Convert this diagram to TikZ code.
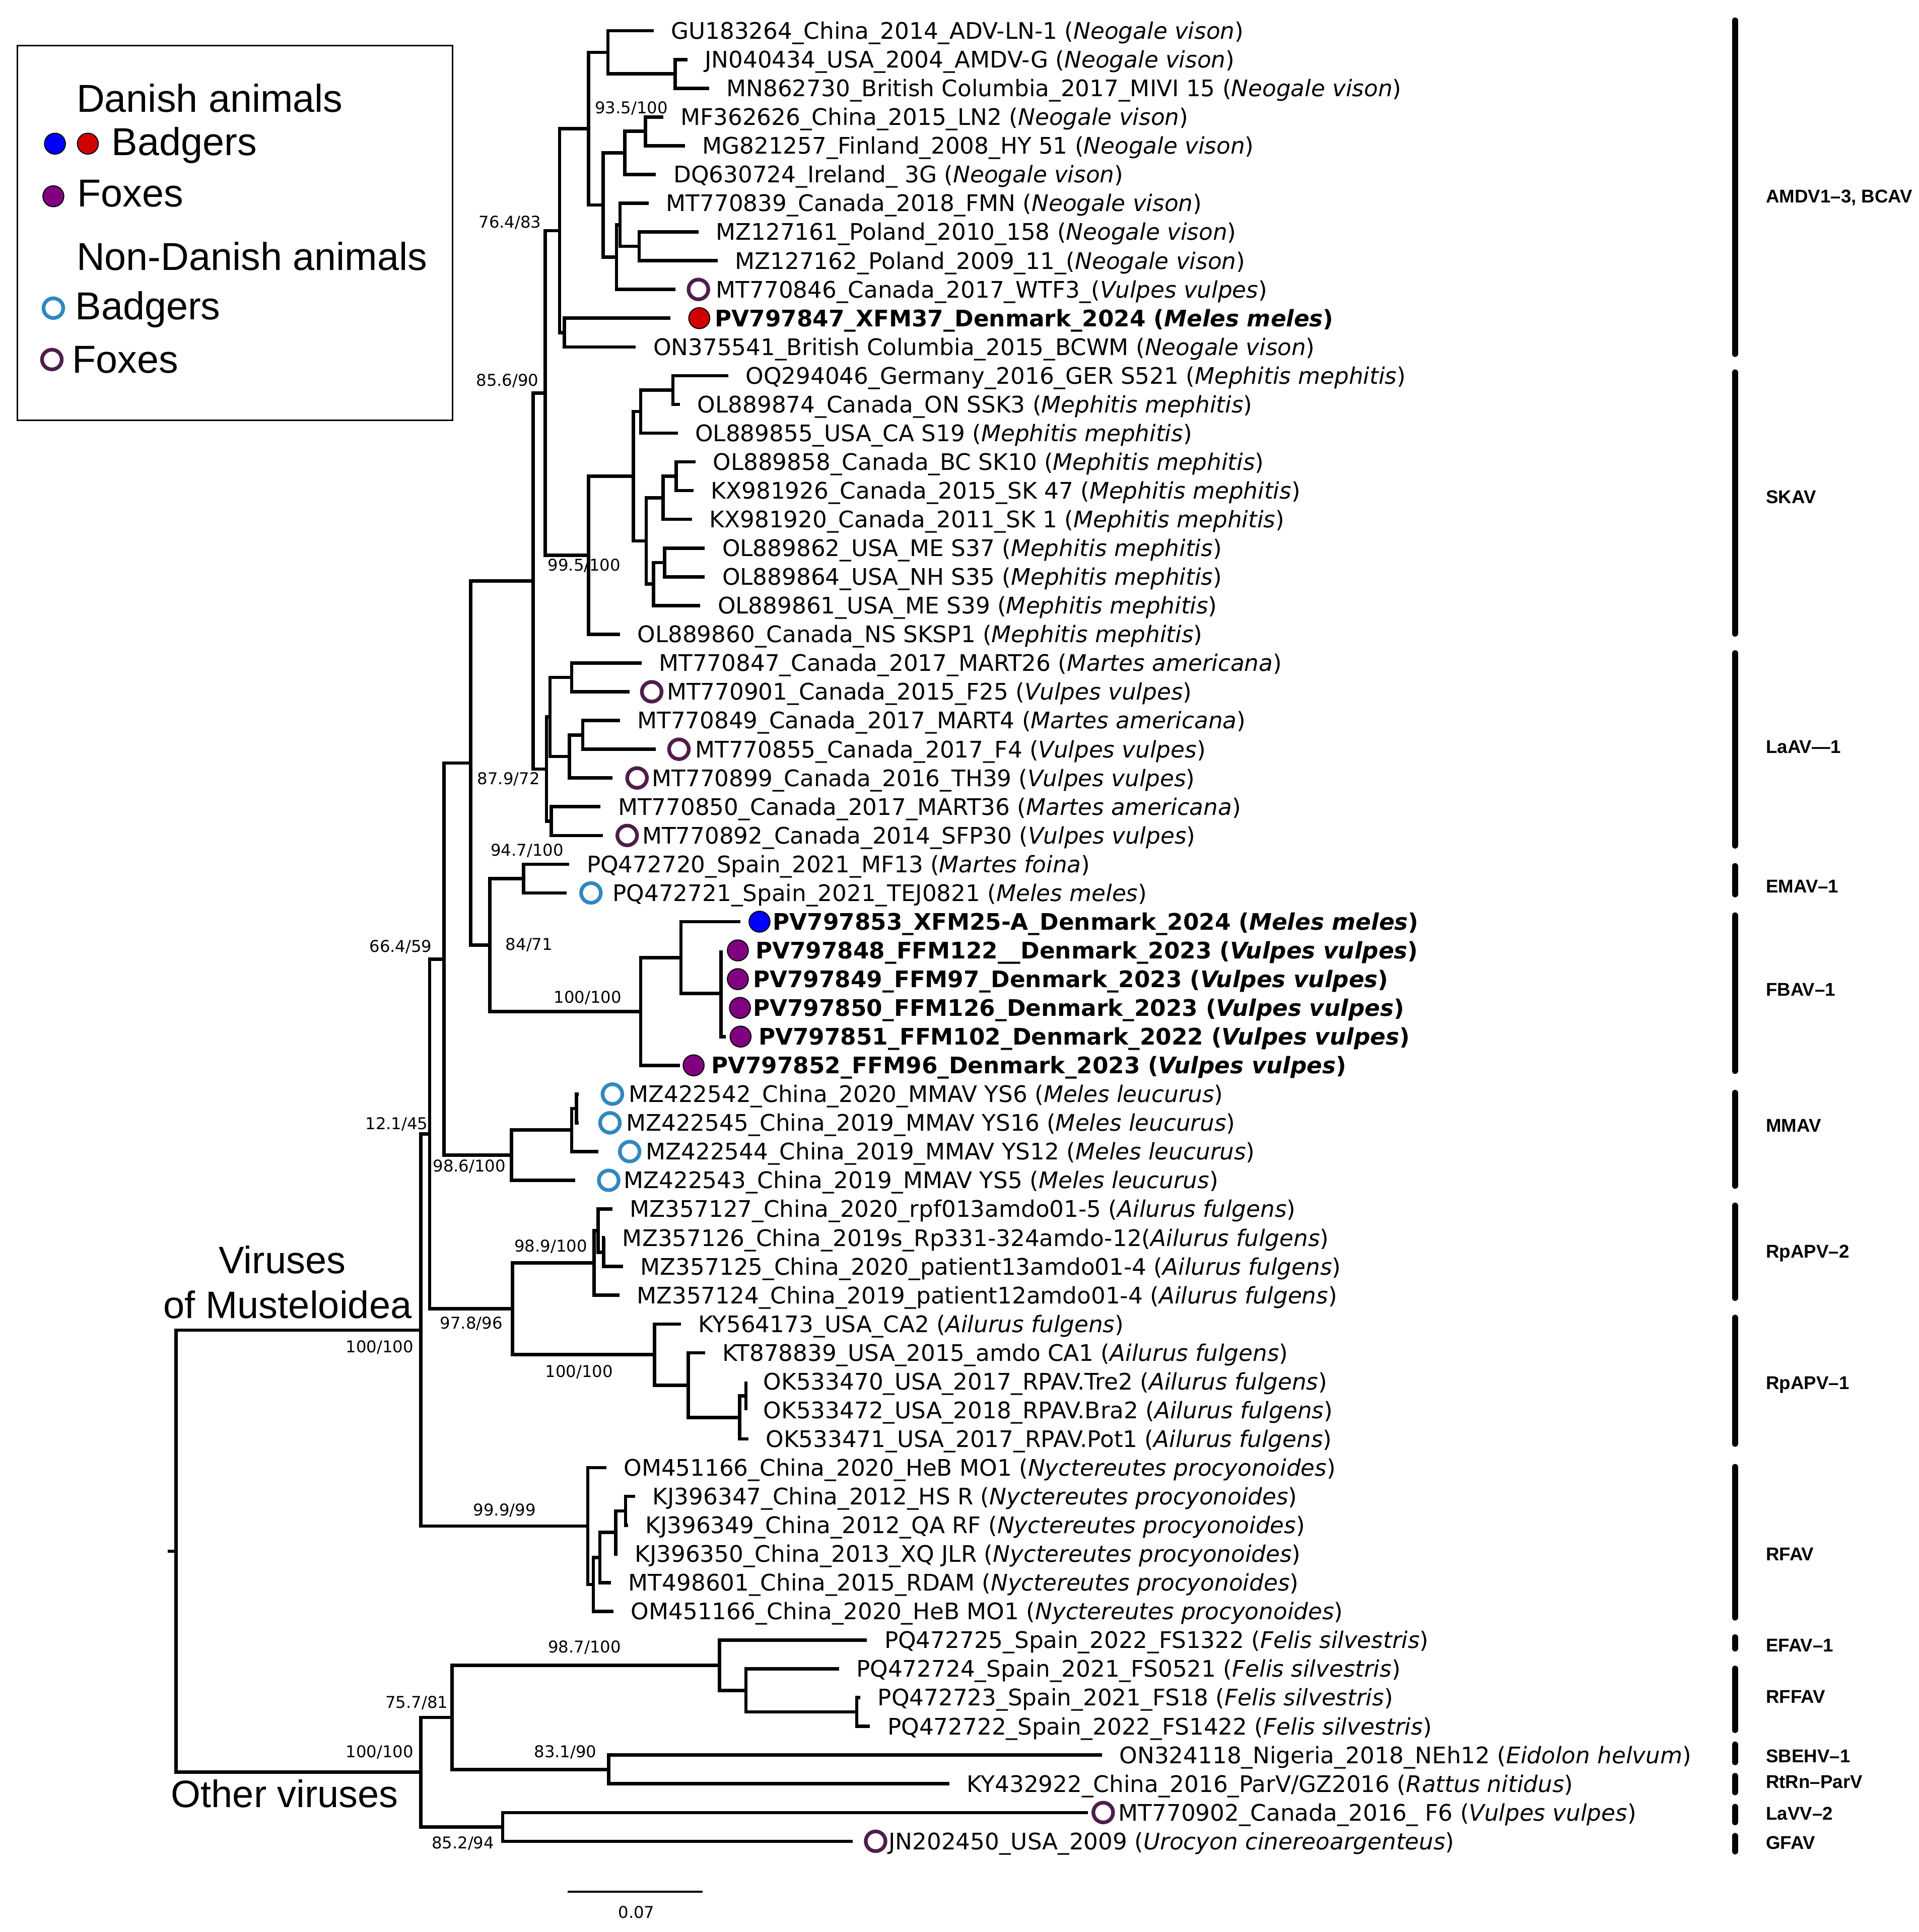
\documentclass[tikz,border=0pt]{standalone}
\usepackage{fontspec}
\setmainfont{DejaVu Sans}
\newfontfamily\arialf{Liberation Sans}
\definecolor{dkblue}{RGB}{0,0,255}
\definecolor{dkred}{RGB}{208,0,0}
\definecolor{dkpurple}{RGB}{128,0,128}
\definecolor{ndbadger}{RGB}{50,135,190}
\definecolor{ndfox}{RGB}{78,30,74}
\newcommand\Y[1]{1.677+#1*23.323}
\tikzset{
  br/.style={line width=2.7pt, line join=miter},
  leaf/.style={anchor=base west, inner sep=0pt, font=\fontsize{18.5}{22}\selectfont},
  boot/.style={inner sep=0pt, font=\fontsize{13.2}{15}\selectfont},
  dkdot/.style={circle, draw=black, line width=0.8pt, minimum size=17pt, inner sep=0pt},
  dkbluedot/.style={dkdot, fill=dkblue},
  dkreddot/.style={dkdot, fill=dkred},
  dkpurpledot/.style={dkdot, fill=dkpurple},
  ndring/.style={circle, line width=3pt, minimum size=16pt, inner sep=0pt},
  ndbadgerring/.style={ndring, draw=ndbadger},
  ndfoxring/.style={ndring, draw=ndfox},
  cbar/.style={line width=5pt, line cap=round},
  clab/.style={anchor=base west, inner sep=0pt, font=\arialf\bfseries\fontsize{15}{18}\selectfont},
  legtext/.style={anchor=base west, inner sep=0pt, font=\arialf\fontsize{31.6}{36}\selectfont},
  bigtext/.style={anchor=base, inner sep=0pt, font=\arialf\fontsize{31}{36}\selectfont},
}
\newcommand\tipleaf[4]{\coordinate (#1) at (#2,\Y{#3}); \node[leaf] (#1t) at ({#2+14},{\Y{#3}+6.7}) {#4};}
\newcommand\circleaf[7]{\coordinate (#1) at (#2,\Y{#3}); \node[#5] (#1c) at (#4,\Y{#3}) {}; \node[leaf] (#1t) at (#6,{\Y{#3}+6.7}) {#7};}
\newcommand\kids[2]{\foreach \kid in {#2}{\draw[br] (#1) |- (\kid);}}
\newcommand\clade[5]{\coordinate (#1a) at (1408,{#2+2.5}); \coordinate (#1b) at (1408,{#3-2.5}); \draw[cbar] (#1a) -- (#1b); \node[clab] (#1l) at (1433,{#4+5.4}) {#5};}
\begin{document}
\begin{tikzpicture}[x=1pt,y=-1pt]
\fill[white] (0,0) rectangle (1557,1568);
\useasboundingbox (0,0) rectangle (1557,1568);

% ---------------- leaves ----------------
\tipleaf{L1}{530.4}{1}{GU183264\_China\_2014\_ADV-LN-1 (\textit{Neogale vison})}
\tipleaf{L2}{557.8}{2}{JN040434\_USA\_2004\_AMDV-G (\textit{Neogale vison})}
\tipleaf{L3}{575.4}{3}{MN862730\_British Columbia\_2017\_MIVI 15 (\textit{Neogale vison})}
\tipleaf{L4}{538.2}{4}{MF362626\_China\_2015\_LN2 (\textit{Neogale vison})}
\tipleaf{L5}{555.8}{5}{MG821257\_Finland\_2008\_HY 51 (\textit{Neogale vison})}
\tipleaf{L6}{532.4}{6}{DQ630724\_Ireland\_ 3G (\textit{Neogale vison})}
\tipleaf{L7}{526.5}{7}{MT770839\_Canada\_2018\_FMN (\textit{Neogale vison})}
\tipleaf{L8}{566.8}{8}{MZ127161\_Poland\_2010\_158 (\textit{Neogale vison})}
\tipleaf{L9}{582.4}{9}{MZ127162\_Poland\_2009\_11\_(\textit{Neogale vison})}
\circleaf{L10}{548}{10}{566.8}{ndfoxring}{581}{MT770846\_Canada\_2017\_WTF3\_(\textit{Vulpes vulpes})}
\circleaf{L11}{544.1}{11}{567.5}{dkreddot}{580}{\textbf{PV797847\_XFM37\_Denmark\_2024 (\textit{Meles meles})}}
\tipleaf{L12}{516}{12}{ON375541\_British Columbia\_2015\_BCWM (\textit{Neogale vison})}
\tipleaf{L13}{591}{13}{OQ294046\_Germany\_2016\_GER S521 (\textit{Mephitis mephitis})}
\tipleaf{L14}{551.9}{14}{OL889874\_Canada\_ON SSK3 (\textit{Mephitis mephitis})}
\tipleaf{L15}{550}{15}{OL889855\_USA\_CA S19 (\textit{Mephitis mephitis})}
\tipleaf{L16}{564.4}{16}{OL889858\_Canada\_BC SK10 (\textit{Mephitis mephitis})}
\tipleaf{L17}{562.9}{17}{KX981926\_Canada\_2015\_SK 47 (\textit{Mephitis mephitis})}
\tipleaf{L18}{561.7}{18}{KX981920\_Canada\_2011\_SK 1 (\textit{Mephitis mephitis})}
\tipleaf{L19}{572}{19}{OL889862\_USA\_ME S37 (\textit{Mephitis mephitis})}
\tipleaf{L20}{572}{20}{OL889864\_USA\_NH S35 (\textit{Mephitis mephitis})}
\tipleaf{L21}{568.3}{21}{OL889861\_USA\_ME S39 (\textit{Mephitis mephitis})}
\tipleaf{L22}{503.1}{22}{OL889860\_Canada\_NS SKSP1 (\textit{Mephitis mephitis})}
\tipleaf{L23}{520.6}{23}{MT770847\_Canada\_2017\_MART26 (\textit{Martes americana})}
\circleaf{L24}{510.9}{24}{528.9}{ndfoxring}{541}{MT770901\_Canada\_2015\_F25 (\textit{Vulpes vulpes})}
\tipleaf{L25}{503}{25}{MT770849\_Canada\_2017\_MART4 (\textit{Martes americana})}
\circleaf{L26}{532.4}{26}{551}{ndfoxring}{564}{MT770855\_Canada\_2017\_F4 (\textit{Vulpes vulpes})}
\circleaf{L27}{497.2}{27}{517}{ndfoxring}{529}{MT770899\_Canada\_2016\_TH39 (\textit{Vulpes vulpes})}
\tipleaf{L28}{487.4}{28}{MT770850\_Canada\_2017\_MART36 (\textit{Martes americana})}
\circleaf{L29}{489.4}{29}{509}{ndfoxring}{521}{MT770892\_Canada\_2014\_SFP30 (\textit{Vulpes vulpes})}
\tipleaf{L30}{462}{30}{PQ472720\_Spain\_2021\_MF13 (\textit{Martes foina})}
\circleaf{L31}{460}{31}{479.6}{ndbadgerring}{497}{PQ472721\_Spain\_2021\_TEJ0821 (\textit{Meles meles})}
\circleaf{L32}{600.8}{32}{616.4}{dkbluedot}{627}{\textbf{PV797853\_XFM25-A\_Denmark\_2024 (\textit{Meles meles})}}
\circleaf{L33}{585.1}{33}{598.8}{dkpurpledot}{613}{\textbf{PV797848\_FFM122\_\_Denmark\_2023 (\textit{Vulpes vulpes})}}
\circleaf{L34}{585.1}{34}{598.8}{dkpurpledot}{611}{\textbf{PV797849\_FFM97\_Denmark\_2023 (\textit{Vulpes vulpes})}}
\circleaf{L35}{585.1}{35}{600.5}{dkpurpledot}{611}{\textbf{PV797850\_FFM126\_Denmark\_2023 (\textit{Vulpes vulpes})}}
\circleaf{L36}{589}{36}{601}{dkpurpledot}{615.5}{\textbf{PV797851\_FFM102\_Denmark\_2022 (\textit{Vulpes vulpes})}}
\circleaf{L37}{551.9}{37}{562.9}{dkpurpledot}{577}{\textbf{PV797852\_FFM96\_Denmark\_2023 (\textit{Vulpes vulpes})}}
\circleaf{L38}{469.8}{38}{497}{ndbadgerring}{510}{MZ422542\_China\_2020\_MMAV YS6 (\textit{Meles leucurus})}
\circleaf{L39}{469.8}{39}{495}{ndbadgerring}{508}{MZ422545\_China\_2019\_MMAV YS16 (\textit{Meles leucurus})}
\circleaf{L40}{485.5}{40}{511}{ndbadgerring}{524}{MZ422544\_China\_2019\_MMAV YS12 (\textit{Meles leucurus})}
\circleaf{L41}{466.7}{41}{494}{ndbadgerring}{506}{MZ422543\_China\_2019\_MMAV YS5 (\textit{Meles leucurus})}
\tipleaf{L42}{497.1}{42}{MZ357127\_China\_2020\_rpf013amdo01-5 (\textit{Ailurus fulgens})}
\tipleaf{L43}{491}{43}{MZ357126\_China\_2019s\_Rp331-324amdo-12(\textit{Ailurus fulgens})}
\tipleaf{L44}{505.7}{44}{MZ357125\_China\_2020\_patient13amdo01-4 (\textit{Ailurus fulgens})}
\tipleaf{L45}{502.6}{45}{MZ357124\_China\_2019\_patient12amdo01-4 (\textit{Ailurus fulgens})}
\tipleaf{L46}{552.6}{46}{KY564173\_USA\_CA2 (\textit{Ailurus fulgens})}
\tipleaf{L47}{572.1}{47}{KT878839\_USA\_2015\_amdo CA1 (\textit{Ailurus fulgens})}
\tipleaf{L48}{605.4}{48}{OK533470\_USA\_2017\_RPAV.Tre2 (\textit{Ailurus fulgens})}
\tipleaf{L49}{605.4}{49}{OK533472\_USA\_2018\_RPAV.Bra2 (\textit{Ailurus fulgens})}
\tipleaf{L50}{607.3}{50}{OK533471\_USA\_2017\_RPAV.Pot1 (\textit{Ailurus fulgens})}
\tipleaf{L51}{492}{51}{OM451166\_China\_2020\_HeB MO1 (\textit{Nyctereutes procyonoides})}
\tipleaf{L52}{515.5}{52}{KJ396347\_China\_2012\_HS R (\textit{Nyctereutes procyonoides})}
\tipleaf{L53}{509.6}{53}{KJ396349\_China\_2012\_QA RF (\textit{Nyctereutes procyonoides})}
\tipleaf{L54}{501}{54}{KJ396350\_China\_2013\_XQ JLR (\textit{Nyctereutes procyonoides})}
\tipleaf{L55}{495.9}{55}{MT498601\_China\_2015\_RDAM (\textit{Nyctereutes procyonoides})}
\tipleaf{L56}{497.9}{56}{OM451166\_China\_2020\_HeB MO1 (\textit{Nyctereutes procyonoides})}
\tipleaf{L57}{703.6}{57}{PQ472725\_Spain\_2022\_FS1322 (\textit{Felis silvestris})}
\tipleaf{L58}{680.8}{58}{PQ472724\_Spain\_2021\_FS0521 (\textit{Felis silvestris})}
\tipleaf{L59}{698.2}{59}{PQ472723\_Spain\_2021\_FS18 (\textit{Felis silvestris})}
\tipleaf{L60}{706.1}{60}{PQ472722\_Spain\_2022\_FS1422 (\textit{Felis silvestris})}
\tipleaf{L61}{894.3}{61}{ON324118\_Nigeria\_2018\_NEh12 (\textit{Eidolon helvum})}
\tipleaf{L62}{770.5}{62}{KY432922\_China\_2016\_ParV/GZ2016 (\textit{Rattus nitidus})}
\circleaf{L63}{882.9}{63}{895.3}{ndfoxring}{907.6}{MT770902\_Canada\_2016\_ F6 (\textit{Vulpes vulpes})}
\circleaf{L64}{692.2}{64}{710.6}{ndfoxring}{721}{JN202450\_USA\_2009 (\textit{Urocyon cinereoargenteus})}

% ---------------- internal nodes ----------------
\coordinate (A4) at (548,60.0);
\coordinate (A3) at (493.3,42.5);
\coordinate (A7) at (523.8,106.6);
\coordinate (A6) at (507,124.1);
\coordinate (A10) at (518.7,199.9);
\coordinate (A9) at (503.1,182.4);
\coordinate (A8) at (500.3,208.7);
\coordinate (A5) at (489.4,166.4);
\coordinate (A2) at (477.6,104.5);
\coordinate (A11) at (458.1,269.9);
\coordinate (A1) at (454.2,187.2);
\coordinate (S4) at (546.1,316.6);
\coordinate (S3) at (519.9,334.0);
\coordinate (S7) at (548.8,386.5);
\coordinate (S6) at (538.2,404.0);
\coordinate (S9) at (539.4,456.5);
\coordinate (S8) at (530.4,474.0);
\coordinate (S5) at (524.5,439.0);
\coordinate (S2) at (514,386.5);
\coordinate (S1) at (477.6,450.7);
\coordinate (N85) at (442.5,319.0);
\coordinate (La1a) at (464,549.8);
\coordinate (La1c) at (473,596.5);
\coordinate (La1b) at (462,614.0);
\coordinate (La1) at (446.4,581.9);
\coordinate (La2) at (447.5,666.4);
\coordinate (La) at (443.5,624.2);
\coordinate (Yn) at (432.7,471.6);
\coordinate (E) at (424.9,713.0);
\coordinate (F2) at (585.1,806.3);
\coordinate (F1) at (552.7,777.2);
\coordinate (F0) at (519.9,820.9);
\coordinate (EF) at (397.5,767.0);
\coordinate (Xn) at (381.9,619.3);
\coordinate (M3) at (467.9,899.6);
\coordinate (M2) at (464,917.1);
\coordinate (MM) at (415.1,937.5);
\coordinate (Bn) at (360.4,778.4);
\coordinate (R2b) at (490,1016.3);
\coordinate (R2a) at (485.4,998.8);
\coordinate (R2) at (482.2,1025.0);
\coordinate (R1d) at (605.4,1132.9);
\coordinate (R1c) at (600.3,1150.4);
\coordinate (R1b) at (558.5,1124.2);
\coordinate (R1) at (531.1,1099.4);
\coordinate (Cn) at (415.8,1062.2);
\coordinate (An) at (348.6,920.3);
\coordinate (RFd) at (507.6,1226.2);
\coordinate (RFc) at (499.8,1243.7);
\coordinate (RFb) at (486.9,1264.1);
\coordinate (RFa) at (481.5,1286.0);
\coordinate (RF) at (477,1238.6);
\coordinate (Mn) at (341.5,1079.5);
\coordinate (F3) at (695.3,1389.4);
\coordinate (Fb) at (605.4,1371.9);
\coordinate (Fa) at (583.9,1351.5);
\coordinate (Sb) at (494,1436.1);
\coordinate (O1) at (366.9,1393.8);
\coordinate (Gn) at (408,1482.7);
\coordinate (On) at (341.5,1438.3);
\coordinate (root) at (142.9,1258.9);
\coordinate (stub) at (136.3,1258.9);

% ---------------- branches ----------------
\kids{A4}{L2,L3} \kids{A3}{L1,A4} \kids{A7}{L4,L5} \kids{A6}{A7,L6}
\kids{A10}{L8,L9} \kids{A9}{L7,A10} \kids{A8}{A9,L10} \kids{A5}{A6,A8}
\kids{A2}{A3,A5} \kids{A11}{L11,L12} \kids{A1}{A2,A11}
\kids{S4}{L13,L14} \kids{S3}{S4,L15} \kids{S7}{L16,L17} \kids{S6}{S7,L18}
\kids{S9}{L19,L20} \kids{S8}{S9,L21} \kids{S5}{S6,S8} \kids{S2}{S3,S5}
\kids{S1}{S2,L22} \kids{N85}{A1,S1}
\kids{La1a}{L23,L24} \kids{La1c}{L25,L26} \kids{La1b}{La1c,L27} \kids{La1}{La1a,La1b}
\kids{La2}{L28,L29} \kids{La}{La1,La2} \kids{Yn}{N85,La}
\kids{E}{L30,L31} \kids{F2}{L33,L34,L35,L36} \kids{F1}{L32,F2} \kids{F0}{F1,L37}
\kids{EF}{E,F0} \kids{Xn}{Yn,EF}
\kids{M3}{L38,L39} \kids{M2}{M3,L40} \kids{MM}{M2,L41} \kids{Bn}{Xn,MM}
\kids{R2b}{L43,L44} \kids{R2a}{L42,R2b} \kids{R2}{R2a,L45}
\kids{R1d}{L48,L49} \kids{R1c}{R1d,L50} \kids{R1b}{L47,R1c} \kids{R1}{L46,R1b}
\kids{Cn}{R2,R1} \kids{An}{Bn,Cn}
\kids{RFd}{L52,L53} \kids{RFc}{RFd,L54} \kids{RFb}{RFc,L55} \kids{RFa}{RFb,L56}
\kids{RF}{L51,RFa} \kids{Mn}{An,RF}
\kids{F3}{L59,L60} \kids{Fb}{L58,F3} \kids{Fa}{L57,Fb} \kids{Sb}{L61,L62}
\kids{O1}{Fa,Sb} \kids{Gn}{L63,L64} \kids{On}{O1,Gn}
\kids{root}{Mn,On}
\draw[br] (root) -- (stub);

% ---------------- support values ----------------
\node[boot] (b1) at (512.4,88) {93.5/100};
\node[boot] (b2) at (413.9,180.8) {76.4/83};
\node[boot] (b3) at (411.8,309) {85.6/90};
\node[boot] (b4) at (474.1,458.9) {99.5/100};
\node[boot] (b5) at (412.7,632.4) {87.9/72};
\node[boot] (b6) at (427.8,690.4) {94.7/100};
\node[boot] (b7) at (429.4,766.9) {84/71};
\node[boot] (b8) at (325.2,768.4) {66.4/59};
\node[boot] (b9) at (477,809.9) {100/100};
\node[boot] (b10) at (321.9,912.3) {12.1/45};
\node[boot] (b11) at (380.9,946.7) {98.6/100};
\node[boot] (b12) at (447,1011.5) {98.9/100};
\node[boot] (b13) at (382.5,1074.4) {97.8/96};
\node[boot] (b14) at (308.2,1093.6) {100/100};
\node[boot] (b15) at (469.9,1113.6) {100/100};
\node[boot] (b16) at (409.5,1225.8) {99.9/99};
\node[boot] (b17) at (474.4,1337.1) {98.7/100};
\node[boot] (b18) at (338.2,1381.8) {75.7/81};
\node[boot] (b19) at (308.2,1422.1) {100/100};
\node[boot] (b20) at (458.8,1422.1) {83.1/90};
\node[boot] (b21) at (375.7,1496.2) {85.2/94};

% ---------------- group titles ----------------
\node[bigtext] (t1) at (229.1,1033.4) {Viruses};
\node[bigtext] (t2) at (233.4,1069.9) {of Musteloidea};
\node[bigtext] (t3) at (231,1466.8) {Other viruses};

% ---------------- scale bar ----------------
\coordinate (sb1) at (460.7,1535.4);
\coordinate (sb2) at (570.2,1535.4);
\draw[line width=1.6pt] (sb1) -- (sb2);
\node[boot] (sbl) at (516.5,1552) {0.07};

% ---------------- clade bars ----------------
\clade{c1}{14.2}{289.7}{159}{AMDV1–3, BCAV}
\clade{c2}{299.8}{516.7}{403.2}{SKAV}
\clade{c3}{527.7}{688.7}{605.7}{LaAV—1}
\clade{c4}{700.5}{728.3}{719}{EMAV–1}
\clade{c5}{740.5}{871.6}{802.9}{FBAV–1}
\clade{c6}{884.5}{964.8}{913.3}{MMAV}
\clade{c7}{976}{1055.8}{1015.6}{RpAPV–2}
\clade{c8}{1067}{1174.2}{1122}{RpAPV–1}
\clade{c9}{1188.1}{1315.2}{1261.3}{RFAV}
\clade{c10}{1326.4}{1340.3}{1335}{EFAV–1}
\clade{c11}{1351.8}{1406.5}{1376.9}{RFFAV}
\clade{c12}{1413.4}{1432.6}{1424.9}{SBEHV–1}
\clade{c13}{1438.9}{1457}{1445.8}{RtRn–ParV}
\clade{c14}{1464}{1481.3}{1471.6}{LaVV–2}
\clade{c15}{1487.6}{1505}{1495.3}{GFAV}

% ---------------- legend ----------------
\draw[line width=1.3pt] (14.1,37.1) rectangle (367.2,341);
\node[legtext] (lg1) at (62,91) {Danish animals};
\node[dkbluedot] (lgb) at (44.6,116.6) {};
\node[dkreddot] (lgr) at (71.3,116.6) {};
\node[legtext] (lg2) at (90.5,126.2) {Badgers};
\node[dkpurpledot] (lgp) at (43.3,159.3) {};
\node[legtext] (lg3) at (62.5,167.9) {Foxes};
\node[legtext] (lg4) at (62,219.2) {Non-Danish animals};
\node[ndbadgerring] (lgnb) at (43.3,250.1) {};
\node[legtext] (lg5) at (61,259.3) {Badgers};
\node[ndfoxring] (lgnf) at (42.1,291.8) {};
\node[legtext] (lg6) at (58.5,302.5) {Foxes};
\end{tikzpicture}
\end{document}
